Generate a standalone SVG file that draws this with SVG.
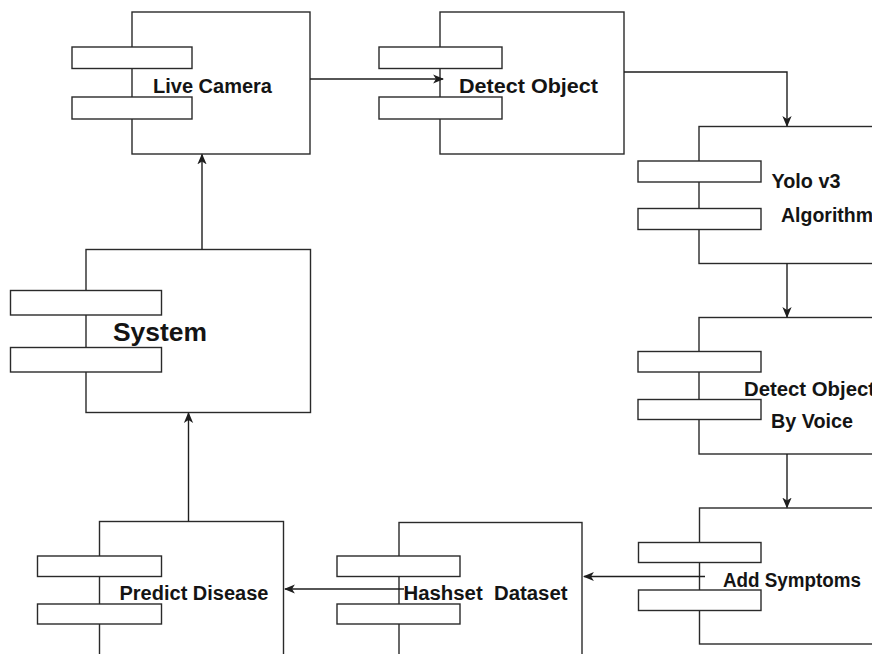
<svg xmlns="http://www.w3.org/2000/svg" width="872" height="654" viewBox="0 0 872 654">
  <style>
    .box { fill: #ffffff; stroke: #2a2a2a; stroke-width: 1.4; }
    .tab { fill: #ffffff; stroke: #2a2a2a; stroke-width: 1.4; }
    .lbl { font-family: "Liberation Sans", Arial, sans-serif; font-weight: bold; font-size: 19.5px; fill: #141414; }
    .big { font-size: 26px; }
    .wire { fill: none; stroke: #1e1e1e; stroke-width: 1.4; }
  </style>
  <defs>
    <marker id="arrow" viewBox="0 0 10 10" refX="9" refY="5" markerWidth="11" markerHeight="11" markerUnits="userSpaceOnUse" orient="auto">
      <path d="M0,0.8 L10,5 L0,9.2 L2.6,5 Z" fill="#1e1e1e"/>
    </marker>
  </defs>
  <rect width="872" height="654" fill="#ffffff"/>

  <!-- Live Camera -->
  <g id="live-camera">
    <rect class="box" x="132" y="12" width="178" height="142"/>
    <rect class="tab" x="72" y="47" width="120" height="21.5"/>
    <rect class="tab" x="72" y="97" width="120" height="22"/>
    <text class="lbl" x="153" y="93" font-size="20" textLength="119" lengthAdjust="spacingAndGlyphs">Live Camera</text>
  </g>

  <!-- Detect Object -->
  <g id="detect-object">
    <rect class="box" x="440" y="12" width="184" height="142"/>
    <rect class="tab" x="379" y="47" width="123" height="21.5"/>
    <rect class="tab" x="379" y="97" width="123" height="22"/>
    <text class="lbl" x="459" y="93" font-size="20" textLength="139" lengthAdjust="spacingAndGlyphs">Detect Object</text>
  </g>

  <!-- Yolo v3 Algorithm -->
  <g id="yolo">
    <rect class="box" x="699" y="126.5" width="200" height="137"/>
    <rect class="tab" x="638" y="161" width="123" height="21"/>
    <rect class="tab" x="638" y="208.5" width="123" height="21"/>
    <text class="lbl" x="771.5" y="188" textLength="69" lengthAdjust="spacingAndGlyphs">Yolo v3</text>
    <text class="lbl" x="781" y="222">Algorithm</text>
  </g>

  <!-- Detect Object By Voice -->
  <g id="detect-by-voice">
    <rect class="box" x="699" y="317.5" width="200" height="136.5"/>
    <rect class="tab" x="638" y="351.5" width="123" height="20.5"/>
    <rect class="tab" x="638" y="399.5" width="123" height="20"/>
    <text class="lbl" x="744" y="395.5" textLength="131" lengthAdjust="spacingAndGlyphs">Detect Object</text>
    <text class="lbl" x="771" y="428" textLength="82" lengthAdjust="spacingAndGlyphs">By Voice</text>
  </g>

  <!-- Add Symptoms -->
  <g id="add-symptoms">
    <rect class="box" x="699.5" y="508" width="200" height="136"/>
    <rect class="tab" x="638.5" y="542.5" width="122.5" height="20"/>
    <rect class="tab" x="638.5" y="590" width="122.5" height="20.5"/>
    <text class="lbl" x="723" y="587" textLength="138" lengthAdjust="spacingAndGlyphs">Add Symptoms</text>
  </g>

  <!-- Hashset Dataset -->
  <g id="hashset-dataset">
    <rect class="box" x="399" y="522.5" width="183" height="150"/>
    <rect class="tab" x="337" y="556" width="123" height="20.5"/>
    <rect class="tab" x="337" y="604" width="123" height="20"/>
  </g>

  <!-- Predict Disease -->
  <g id="predict-disease">
    <rect class="box" x="99.5" y="521.5" width="184" height="150"/>
    <rect class="tab" x="37.5" y="556" width="124" height="20.5"/>
    <rect class="tab" x="37.5" y="604" width="124" height="20"/>
    <text class="lbl" x="119.5" y="600" font-size="20" textLength="149" lengthAdjust="spacingAndGlyphs">Predict Disease</text>
  </g>

  <!-- System -->
  <g id="system">
    <rect class="box" x="86" y="249.5" width="224.5" height="163"/>
    <rect class="tab" x="10.5" y="290.5" width="151" height="24.5"/>
    <rect class="tab" x="10.5" y="347.5" width="151" height="24.5"/>
    <text class="lbl big" x="113" y="341" textLength="94" lengthAdjust="spacingAndGlyphs">System</text>
  </g>

  <!-- connectors -->
  <g id="connectors">
    <path class="wire" d="M310,79 L443,79" marker-end="url(#arrow)"/>
    <path class="wire" d="M624,72 L787,72 L787,126" marker-end="url(#arrow)"/>
    <path class="wire" d="M787,263.5 L787,317" marker-end="url(#arrow)"/>
    <path class="wire" d="M787,454 L787,507.5" marker-end="url(#arrow)"/>
    <path class="wire" d="M705,576.5 L584,576.5" marker-end="url(#arrow)"/>
    <path class="wire" d="M404,589 L285,589" marker-end="url(#arrow)"/>
    <path class="wire" d="M188.5,521.5 L188.5,413" marker-end="url(#arrow)"/>
    <path class="wire" d="M202,249.5 L202,154.5" marker-end="url(#arrow)"/>
  </g>

  <!-- label drawn over its incoming wire -->
  <text class="lbl" x="403.5" y="600" font-size="19.2" textLength="164" lengthAdjust="spacingAndGlyphs" xml:space="preserve">Hashset  Dataset</text>
</svg>
